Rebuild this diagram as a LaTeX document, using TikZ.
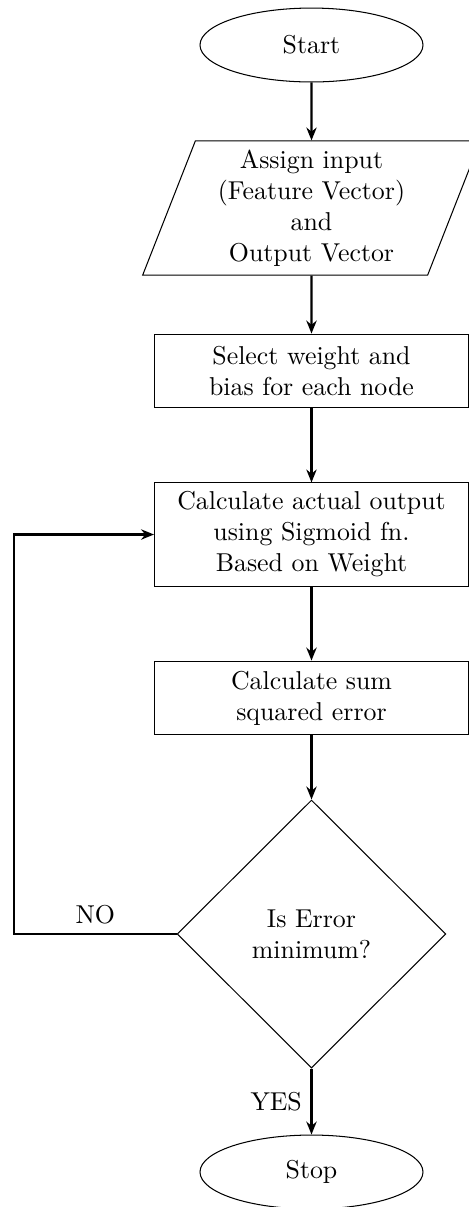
\documentclass[tikz,border=0pt]{standalone}
\usetikzlibrary{shapes.geometric}
\usetikzlibrary{arrows.meta, positioning}

\tikzset{
    startstop/.style={ellipse, draw, minimum width=86.3pt, minimum height=28.6pt, inner sep=0pt},
    inout/.style={trapezium, trapezium left angle=70, trapezium right angle=110, trapezium stretches=true,
        draw, minimum width=130.8pt, minimum height=51.9pt, inner sep=0pt, align=center},
    process/.style={rectangle, draw, minimum width=121.5pt, minimum height=28.6pt, align=center},
    decision/.style={diamond, draw, minimum width=104pt, minimum height=103.7pt, inner sep=0pt, align=center},
    flow/.style={thick, -{Stealth[length=5pt, width=4pt]}}
}

\begin{document}
\begin{tikzpicture}[x=0.387pt, y=-0.387pt]
        \useasboundingbox (0,0) rectangle (469,1207);

        % Start and input
        \node[startstop] (start) at (311.5, 45) {Start};
        \node[inout] (input) at (311.5, 208) {Assign input\\(Feature Vector)\\and\\Output Vector};

        % Processing steps
        \node[process] (select) at (311.5, 371) {Select weight and\\bias for each node};
        \node[process, minimum height=39.9pt] (calc) at (311.5, 534.5) {Calculate actual output\\using Sigmoid fn.\\Based on Weight};
        \node[process] (sumerr) at (311.5, 698) {Calculate sum\\squared error};

        % Decision and stop
        \node[decision] (check) at (311.5, 934) {Is Error\\minimum?};
        \node[startstop] (stop) at (311.5, 1172) {Stop};

        % Connectors
        \draw[flow] (start) -- (input);
        \draw[flow] (input) -- (select);
        \draw[flow] (select) -- (calc);
        \draw[flow] (calc) -- (sumerr);
        \draw[flow] (sumerr) -- (check);
        \draw[flow] (check) -- node[left] {YES} (stop);

        % Loop back when the error is too large
        \coordinate (back) at (14, 934);
        \draw[flow] (check.west) -- node[above] {NO} (back) |- (calc.west);
    \end{tikzpicture}
\end{document}
